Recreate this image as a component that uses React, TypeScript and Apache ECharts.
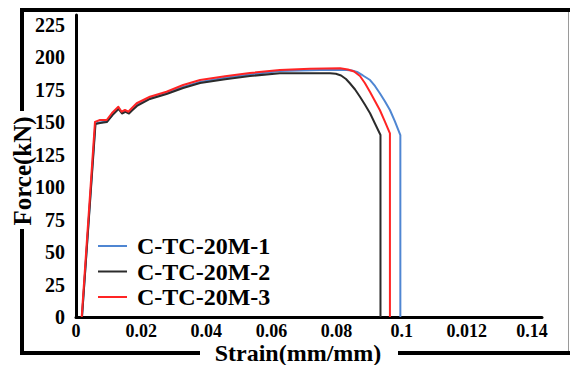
import React, { useEffect, useRef } from "react";
import * as echarts from "echarts";

const seriesNames = ["C-TC-20M-1", "C-TC-20M-2", "C-TC-20M-3"];

const strain1 = [0.00184, 0.00593, 0.00737, 0.00952, 0.0112, 0.01305, 0.01412, 0.0152, 0.01627, 0.0172, 0.01873, 0.0227, 0.0278, 0.0329, 0.0381, 0.0458, 0.0534, 0.0626, 0.0749, 0.0831, 0.0847, 0.0863, 0.0881, 0.0903, 0.0918, 0.0933, 0.0948, 0.0964, 0.0979, 0.0996, 0.0996];
const force1 = [0, 149.1, 149.9, 150.6, 156.0, 161.0, 157.6, 158.7, 157.6, 159.9, 163.4, 168.7, 172.6, 177.2, 181.1, 184.3, 186.8, 189.5, 190.3, 190.3, 189.9, 188.8, 186.1, 182.6, 178.0, 172.4, 166.4, 159.5, 151.0, 140.2, 0];

const strain2 = [0.00184, 0.00599, 0.00737, 0.00952, 0.0112, 0.01305, 0.01412, 0.0152, 0.01627, 0.0172, 0.01873, 0.0227, 0.0278, 0.0329, 0.0381, 0.0458, 0.0534, 0.0626, 0.078, 0.0798, 0.0814, 0.0829, 0.0841, 0.0857, 0.0872, 0.0887, 0.0903, 0.0918, 0.0935, 0.0935];
const force2 = [0, 148.7, 149.5, 150.3, 155.6, 160.3, 156.8, 158.0, 156.8, 159.1, 162.6, 168.0, 171.8, 176.5, 180.3, 183.2, 185.7, 187.8, 187.8, 187.4, 186.1, 183.4, 180.1, 175.3, 169.7, 163.7, 157.0, 149.1, 140.2, 0];

const strain3 = [0.00175, 0.00583, 0.00737, 0.00943, 0.01105, 0.013, 0.014, 0.01504, 0.01606, 0.0171, 0.01864, 0.0227, 0.0278, 0.0329, 0.0381, 0.0458, 0.0534, 0.0626, 0.0718, 0.0811, 0.0835, 0.0854, 0.0872, 0.0887, 0.0903, 0.0918, 0.0933, 0.0948, 0.0964, 0.0964];
const force3 = [0, 150.3, 151.8, 151.8, 157.2, 162.0, 158.2, 159.5, 158.2, 160.8, 164.7, 169.7, 173.6, 178.8, 182.6, 185.5, 188.0, 190.3, 191.3, 191.6, 190.7, 189.2, 185.7, 180.3, 173.4, 166.4, 159.5, 151.0, 141.5, 0];

const xTickLabels = ["0", "0.02", "0.04", "0.06", "0.08", "0.1", "0.012", "0.14"];
const yTickLabels = ["0", "25", "50", "75", "100", "125", "150", "175", "200", "225"];

const colors = ["#4f86d2", "#2b2b2b", "#ff2424"];
const FONT = '"Liberation Serif", "Times New Roman", serif';

export default function App() {
  const ref = useRef<HTMLDivElement>(null);
  useEffect(() => {
    if (!ref.current) return;
    const chart = echarts.init(ref.current, undefined, { renderer: "svg" });
    const pairs = (xs: number[], ys: number[]) => xs.map((x, i) => [x, ys[i]]);
    const data = [pairs(strain1, force1), pairs(strain2, force2), pairs(strain3, force3)];
    chart.setOption({
      animation: false,
      backgroundColor: "#ffffff",
      grid: { left: 76, right: 28, top: 15, bottom: 48, containLabel: false },
      xAxis: {
        type: "value",
        min: 0,
        max: 0.1431,
        interval: 0.02,
        splitLine: { show: false },
        axisTick: { show: false },
        axisLine: { show: true, onZero: false, lineStyle: { color: "#000", width: 3 } },
        axisLabel: {
          margin: 6,
          showMaxLabel: false,
          fontFamily: FONT,
          fontWeight: "bold",
          fontSize: 18,
          lineHeight: 16,
          color: "#000",
          formatter: (v: number) => {
            const i = Math.round(v / 0.02);
            if (Math.abs(v - i * 0.02) > 1e-6) return "";
            return xTickLabels[i] ?? "";
          },
        },
      },
      yAxis: {
        type: "value",
        min: 0,
        max: 232.7,
        interval: 25,
        splitLine: { show: false },
        axisTick: { show: false },
        axisLine: { show: true, lineStyle: { color: "#000", width: 3 } },
        axisLabel: {
          margin: 11,
          showMaxLabel: false,
          fontFamily: FONT,
          fontWeight: "bold",
          fontSize: 20,
          color: "#000",
          formatter: (v: number) => {
            const i = Math.round(v / 25);
            if (Math.abs(v - i * 25) > 1e-6) return "";
            return yTickLabels[i] ?? "";
          },
        },
      },
      legend: {
        orient: "vertical",
        left: 98,
        top: 234,
        padding: 0,
        itemGap: 1.5,
        itemWidth: 29,
        itemHeight: 2,
        icon: "rect",
        data: seriesNames,
        textStyle: {
          fontFamily: FONT,
          fontWeight: "bold",
          fontSize: 24,
          lineHeight: 22,
          color: "#000",
          padding: [0, 0, 0, 5],
        },
      },
      series: seriesNames.map((name, i) => ({
        name,
        type: "line",
        data: data[i],
        showSymbol: false,
        symbol: "none",
        smooth: false,
        color: colors[i],
        lineStyle: { color: colors[i], width: 2, join: "round" },
        z: 2 + i,
      })),
      graphic: [
        { type: "rect", shape: { x: 20, y: 8, width: 550, height: 4 }, style: { fill: "#000" } },
        { type: "rect", shape: { x: 20, y: 8, width: 4, height: 103 }, style: { fill: "#000" } },
        { type: "rect", shape: { x: 20, y: 229, width: 4, height: 126 }, style: { fill: "#000" } },
        { type: "rect", shape: { x: 20, y: 351, width: 180, height: 4 }, style: { fill: "#000" } },
        { type: "rect", shape: { x: 398, y: 351, width: 172, height: 4 }, style: { fill: "#000" } },
        { type: "rect", shape: { x: 568, y: 12, width: 1, height: 339 }, style: { fill: "#9a9a9a" } },
        {
          type: "text",
          x: 22,
          y: 171,
          rotation: Math.PI / 2,
          style: {
            text: "Force(kN)",
            font: 'bold 25px "Liberation Serif", serif',
            lineHeight: 20,
            fill: "#000",
            align: "center",
            verticalAlign: "middle",
          },
        },
        {
          type: "text",
          x: 298,
          y: 353,
          style: {
            text: "Strain(mm/mm)",
            font: 'bold 24px "Liberation Serif", serif',
            lineHeight: 20,
            fill: "#000",
            align: "center",
            verticalAlign: "middle",
          },
        },
      ],
    });
    return () => chart.dispose();
  }, []);
  return <div ref={ref} style={{ width: 570, height: 365, position: "absolute", left: 0, top: 0 }} />;
}
